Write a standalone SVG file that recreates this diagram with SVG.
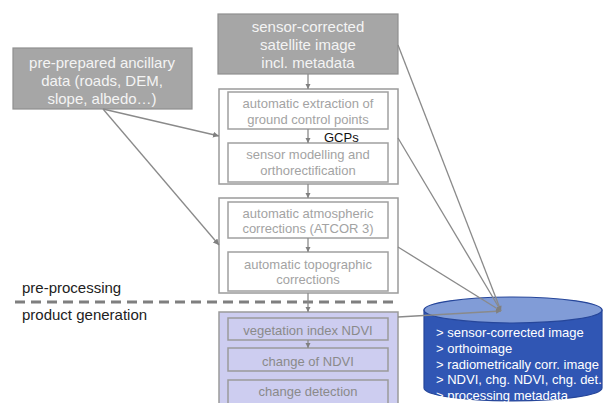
<svg xmlns="http://www.w3.org/2000/svg" width="603" height="403" viewBox="0 0 603 403">
  <defs>
    <marker id="arrow" markerUnits="userSpaceOnUse" markerWidth="7" markerHeight="7" refX="6" refY="3" orient="auto">
      <path d="M0,0 L6,3 L0,6 z" fill="#808080"/>
    </marker>
    <marker id="arrowSmall" markerUnits="userSpaceOnUse" markerWidth="6" markerHeight="6" refX="5" refY="2.5" orient="auto">
      <path d="M0,0 L5,2.5 L0,5 z" fill="#808080"/>
    </marker>
    <style>
      .src { fill: #a6a6a6; stroke: #8f8f8f; stroke-width: 1.2; }
      .srcText { font-family: "Liberation Sans", Arial, sans-serif; font-size: 15px; fill: #f4f4f4; text-anchor: middle; }
      .outer { fill: #ffffff; stroke: #9a9a9a; stroke-width: 1.5; }
      .inner { fill: #ffffff; stroke: #a0a0a0; stroke-width: 1.5; }
      .innerText { font-family: "Liberation Sans", Arial, sans-serif; font-size: 13px; fill: #a3a3a3; text-anchor: middle; }
      .prod { fill: #cdcdf0; stroke: #9a9a9a; stroke-width: 1.5; }
      .prodInner { fill: #cdcdf0; stroke: #9a9a9a; stroke-width: 1.5; }
      .prodText { font-family: "Liberation Sans", Arial, sans-serif; font-size: 13px; fill: #8a8a8a; text-anchor: middle; }
      .label { font-family: "Liberation Sans", Arial, sans-serif; font-size: 15px; fill: #222222; }
      .dbText { font-family: "Liberation Sans", Arial, sans-serif; font-size: 13px; fill: #ffffff; }
      .conn { stroke: #8a8a8a; stroke-width: 1.3; fill: none; }
    </style>
  </defs>

  <rect width="603" height="403" fill="#ffffff"/>

  <!-- section divider -->
  <g id="divider">
    <line x1="15" y1="302" x2="393" y2="302" stroke="#7f7f7f" stroke-width="3" stroke-dasharray="10 6"/>
    <text class="label" x="22" y="293">pre-processing</text>
    <text class="label" x="22" y="320">product generation</text>
  </g>

  <!-- input: satellite image -->
  <g id="satellite">
    <rect class="src" x="218" y="14" width="180" height="60"/>
    <text class="srcText" x="308" y="32">sensor-corrected</text>
    <text class="srcText" x="308" y="50">satellite image</text>
    <text class="srcText" x="308" y="68">incl. metadata</text>
  </g>

  <!-- input: ancillary data -->
  <g id="ancillary">
    <rect class="src" x="13" y="48" width="179" height="61"/>
    <text class="srcText" x="102" y="68">pre-prepared ancillary</text>
    <text class="srcText" x="102" y="86">data (roads, DEM,</text>
    <text class="srcText" x="102" y="104">slope, albedo…)</text>
  </g>

  <!-- geometric processing -->
  <g id="geometry">
    <rect class="outer" x="219" y="89" width="179" height="95"/>
    <g id="gcp-extraction">
      <rect class="inner" x="228" y="92" width="160" height="37"/>
      <text class="innerText" x="308" y="107.5">automatic extraction of</text>
      <text class="innerText" x="308" y="123.5">ground control points</text>
    </g>
    <g id="ortho">
      <rect class="inner" x="228" y="143" width="160" height="39"/>
      <text class="innerText" x="308" y="158.5">sensor modelling and</text>
      <text class="innerText" x="308" y="174.5">orthorectification</text>
    </g>
  </g>

  <!-- radiometric processing -->
  <g id="radiometry">
    <rect class="outer" x="219" y="198" width="179" height="95"/>
    <g id="atmospheric">
      <rect class="inner" x="228" y="202" width="160" height="36"/>
      <text class="innerText" x="308" y="217.5">automatic atmospheric</text>
      <text class="innerText" x="308" y="232.5">corrections (ATCOR 3)</text>
    </g>
    <g id="topographic">
      <rect class="inner" x="228" y="252" width="160" height="39"/>
      <text class="innerText" x="308" y="268.5">automatic topographic</text>
      <text class="innerText" x="308" y="283.5">corrections</text>
    </g>
  </g>

  <!-- product generation -->
  <g id="products">
    <rect class="prod" x="219" y="312" width="179" height="100"/>
    <g id="ndvi">
      <rect class="prodInner" x="228" y="318" width="160" height="22"/>
      <text class="prodText" x="308" y="334.5">vegetation index NDVI</text>
    </g>
    <g id="ndvi-change">
      <rect class="prodInner" x="228" y="348" width="160" height="23"/>
      <text class="prodText" x="308" y="365.5">change of NDVI</text>
    </g>
    <g id="change-detection">
      <rect class="prodInner" x="228" y="380" width="160" height="30"/>
      <text class="prodText" x="308" y="395.5">change detection</text>
    </g>
  </g>

  <!-- archive database -->
  <g id="database">
    <path d="M424,310 L424,388 A89,13 0 0 0 602,388 L602,310 Z" fill="#3056b4" stroke="#26469a" stroke-width="1.2"/>
    <ellipse cx="513" cy="310" rx="89" ry="13" fill="#819cd7" stroke="#26469a" stroke-width="1.2"/>
    <text class="dbText" x="436" y="337">&gt; sensor-corrected  image</text>
    <text class="dbText" x="436" y="353">&gt; orthoimage</text>
    <text class="dbText" x="436" y="368.5">&gt; radiometrically corr. image</text>
    <text class="dbText" x="436" y="384">&gt; NDVI, chg. NDVI, chg. det.</text>
    <text class="dbText" x="436" y="400">&gt; processing metadata</text>
  </g>

  <!-- connectors -->
  <g id="connectors">
    <line class="conn" x1="308" y1="74" x2="308" y2="89" marker-end="url(#arrowSmall)"/>
    <line class="conn" x1="308" y1="129" x2="308" y2="143" marker-end="url(#arrowSmall)"/>
    <line class="conn" x1="308" y1="184" x2="308" y2="198" marker-end="url(#arrowSmall)"/>
    <line class="conn" x1="308" y1="238" x2="308" y2="252" marker-end="url(#arrowSmall)"/>
    <line class="conn" x1="308" y1="293" x2="308" y2="312" marker-end="url(#arrowSmall)"/>
    <line class="conn" x1="308" y1="340" x2="308" y2="348" marker-end="url(#arrowSmall)"/>

    <line class="conn" x1="103" y1="109" x2="219" y2="136" marker-end="url(#arrow)"/>
    <line class="conn" x1="103" y1="109" x2="219" y2="245" marker-end="url(#arrow)"/>

    <line class="conn" x1="398" y1="45" x2="501" y2="311" marker-end="url(#arrowSmall)"/>
    <line class="conn" x1="398" y1="138" x2="501" y2="311" marker-end="url(#arrowSmall)"/>
    <line class="conn" x1="398" y1="247" x2="501" y2="311" marker-end="url(#arrowSmall)"/>
    <line class="conn" x1="398" y1="317" x2="501" y2="311" marker-end="url(#arrowSmall)"/>
  </g>

  <!-- GCP label -->
  <text x="324" y="142" font-family="Liberation Sans, Arial, sans-serif" font-size="13px" fill="#111111">GCPs</text>
</svg>
